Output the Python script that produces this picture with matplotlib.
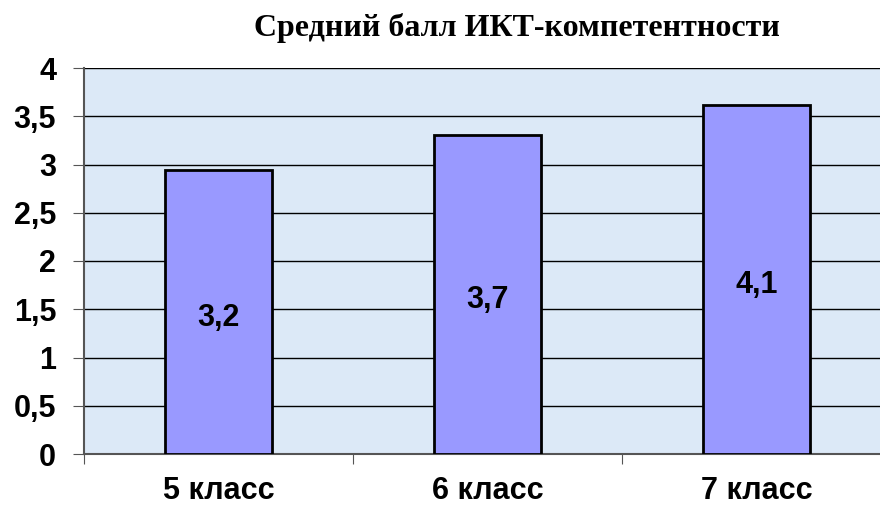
import numpy as np
import matplotlib.pyplot as plt

# data
categories = ["5 класс", "6 класс", "7 класс"]
bar_heights = [2.94, 3.31, 3.62]
bar_labels = ["3,2", "3,7", "4,1"]
y_ticks = [0, 0.5, 1, 1.5, 2, 2.5, 3, 3.5, 4]
y_tick_labels = ["0", "0,5", "1", "1,5", "2", "2,5", "3", "3,5", "4"]
title = "Средний балл ИКТ-компетентности"

fig = plt.figure(figsize=(8.8, 5.05), dpi=100)
ax = fig.add_axes([84 / 880, 51 / 505, 807 / 880, 386 / 505])
ax.set_facecolor("#dce9f7")

x = np.arange(len(categories))
bars = ax.bar(x, bar_heights, width=0.40, color="#9999ff",
              edgecolor="black", linewidth=2, zorder=3)

for b, lab in zip(bars, bar_labels):
    ax.text(b.get_x() + b.get_width() / 2, b.get_height() / 2 - 0.06, lab,
            ha="center", va="center", fontsize=22, fontweight="bold",
            family="Liberation Sans", zorder=4)

ax.set_xlim(-0.5, len(categories) - 0.5)
ax.set_ylim(0, 4)
ax.set_yticks(y_ticks)
ax.set_yticklabels(y_tick_labels, fontsize=22, fontweight="bold", family="Liberation Sans")
ax.yaxis.grid(True, color="black", linewidth=1)
ax.set_axisbelow(True)

# category labels between tick marks at boundaries
ax.set_xticks(np.arange(len(categories) + 1) - 0.5)
ax.set_xticklabels([])
ax.set_xticks(x, minor=True)
ax.set_xticklabels(categories, minor=True, fontsize=22, fontweight="bold",
                   family="Liberation Sans")
ax.tick_params(axis="x", which="minor", length=0, pad=16)
ax.tick_params(axis="x", which="major", length=7, color="#555555")
ax.tick_params(axis="y", length=8, color="#555555", pad=12)

for side in ["top", "right"]:
    ax.spines[side].set_visible(False)
ax.spines["left"].set_color("#555555")
ax.spines["left"].set_linewidth(1.5)
ax.spines["bottom"].set_color("#555555")
ax.spines["bottom"].set_linewidth(1.5)

fig.text(517 / 880, 1 - 28 / 505, title, ha="center", va="center",
         fontsize=23, fontweight="bold", family="Liberation Serif")

fig.savefig("out.png", dpi=100)
